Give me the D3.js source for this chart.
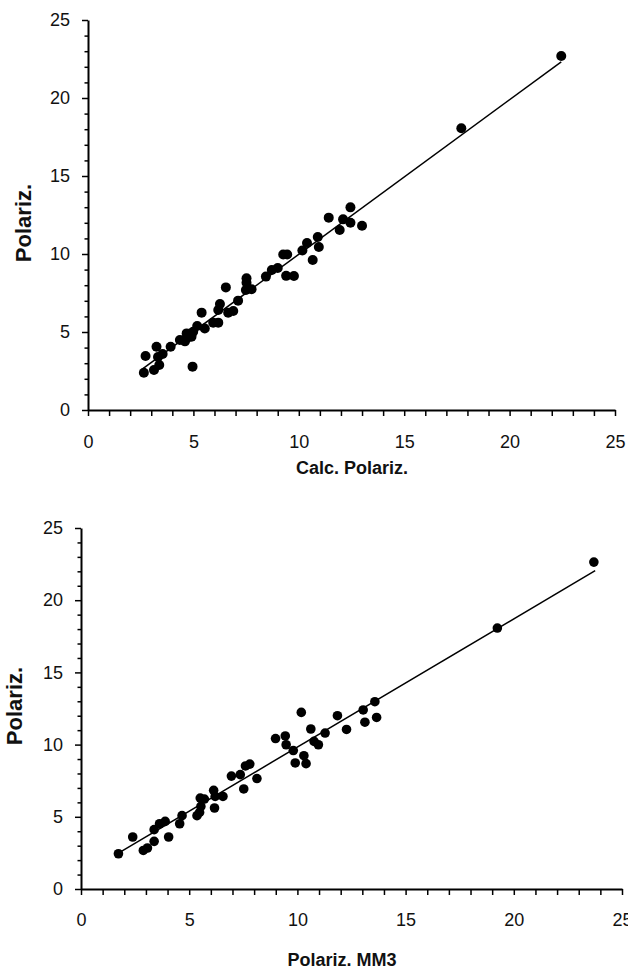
<!DOCTYPE html>
<html>
<head>
<meta charset="utf-8">
<script src="https://cdn.jsdelivr.net/npm/d3@7"></script>
<style>
  html, body { margin: 0; padding: 0; background: #fff; }
  svg { display: block; }
  text { font-family: "Liberation Sans", Arial, sans-serif; fill: #111; }
</style>
</head>
<body>
<svg id="chart" width="628" height="969"></svg>
<script>
// Measured vs. calculated polarizability (top panel)
const calcX = [2.65, 2.73, 3.13, 3.25, 3.38, 3.54, 3.32, 3.92, 4.36, 4.60, 4.68, 4.68, 4.91, 4.96, 4.99,
  5.18, 5.39, 5.54, 5.94, 6.18, 6.18, 6.26, 6.54, 6.65, 6.89, 7.12, 7.49, 7.52, 7.52, 7.76,
  8.44, 8.72, 9.00, 9.26, 9.45, 9.40, 9.77, 10.17, 10.39, 10.66, 10.90, 10.95, 11.42, 12.10,
  12.45, 12.45, 11.94, 13.00, 17.71, 22.45];
const calcY = [2.39, 3.46, 2.56, 4.06, 2.88, 3.59, 3.40, 4.06, 4.49, 4.40, 4.59, 4.91, 4.70, 2.78, 5.02,
  5.38, 6.24, 5.23, 5.60, 5.60, 6.41, 6.79, 7.86, 6.24, 6.35, 7.01, 7.69, 8.44, 8.16, 7.74,
  8.55, 8.98, 9.10, 9.97, 9.97, 8.60, 8.59, 10.23, 10.70, 9.62, 11.09, 10.45, 12.33, 12.22,
  12.99, 12.00, 11.54, 11.81, 18.06, 22.69];
const calcFit = { slope: 0.991, intercept: 0.07, from: 2.62, to: 22.45 };

// Measured polarizability vs. MM3 values (bottom panel)
const mm3X = [1.73, 2.39, 2.88, 3.07, 3.38, 3.38, 3.63, 3.89, 4.05, 4.56, 4.67, 5.36, 5.48, 5.54, 5.51,
  5.70, 6.13, 6.17, 6.20, 6.56, 6.95, 7.36, 7.52, 7.60, 7.80, 8.13, 8.99, 9.44, 9.48, 9.81,
  9.90, 10.18, 10.30, 10.40, 10.62, 10.77, 10.97, 11.28, 11.85, 12.27, 13.04, 13.58, 13.12,
  13.66, 19.24, 23.70];
const mm3Y = [2.44, 3.60, 2.67, 2.84, 3.30, 4.11, 4.52, 4.68, 3.60, 4.52, 5.08, 5.08, 5.30, 5.72, 6.30,
  6.23, 6.83, 5.61, 6.41, 6.41, 7.82, 7.92, 6.93, 8.52, 8.65, 7.65, 10.42, 10.60, 9.99, 9.59,
  8.73, 12.23, 9.23, 8.68, 11.08, 10.22, 9.99, 10.80, 12.00, 11.05, 12.40, 12.97, 11.55,
  11.88, 18.07, 22.64];
const mm3Fit = { slope: 0.888, intercept: 0.95, from: 1.73, to: 23.76 };

const axisTicks = d3.range(0, 26);      // one tick per unit
const labelTicks = [0, 5, 10, 15, 20, 25];

const svg = d3.select("#chart");

function panel(cfg) {
  const g = svg.append("g");
  const x = d3.scaleLinear().domain([0, 25]).range([cfg.left, cfg.right]);
  const y = d3.scaleLinear().domain([0, 25]).range([cfg.bottom, cfg.top]);

  // x axis: line plus ticks every unit, labels every 5
  const xAxis = d3.axisBottom(x).tickValues(axisTicks).tickSize(6).tickSizeOuter(0)
    .tickFormat(d => labelTicks.includes(d) ? d : "");
  const gx = g.append("g").attr("transform", `translate(0,${cfg.bottom})`).call(xAxis);
  gx.select(".domain").attr("stroke", "#000").attr("stroke-width", 2);
  gx.selectAll(".tick line").attr("stroke", "#000").attr("stroke-width", 1.5);
  gx.selectAll(".tick text").attr("y", cfg.xLabelGap).attr("dy", "0.71em")
    .style("font-size", "18px").style("font-family", "Liberation Sans, Arial, sans-serif").attr("fill", "#111");

  // y axis: long ticks at multiples of 5, short ticks between
  const yAxis = d3.axisLeft(y).tickValues(axisTicks).tickSize(3).tickSizeOuter(0)
    .tickFormat(d => labelTicks.includes(d) ? d : "");
  const gy = g.append("g").attr("transform", `translate(${cfg.left},0)`).call(yAxis);
  gy.select(".domain").attr("stroke", "#000").attr("stroke-width", 2);
  gy.selectAll(".tick line").attr("stroke", "#000").attr("stroke-width", 1.5)
    .attr("x2", d => labelTicks.includes(d) ? -6 : -3.5);
  gy.selectAll(".tick text").attr("x", -18)
    .style("font-size", "18px").style("font-family", "Liberation Sans, Arial, sans-serif").attr("fill", "#111");

  // fitted line
  const fit = cfg.fit;
  g.append("line")
    .attr("x1", x(fit.from)).attr("y1", y(fit.slope * fit.from + fit.intercept))
    .attr("x2", x(fit.to)).attr("y2", y(fit.slope * fit.to + fit.intercept))
    .attr("stroke", "#000").attr("stroke-width", 1.5);

  // data points
  g.append("g").selectAll("circle")
    .data(d3.zip(cfg.xs, cfg.ys))
    .join("circle")
    .attr("cx", d => x(d[0])).attr("cy", d => y(d[1]))
    .attr("r", cfg.r).attr("fill", "#000");

  // axis titles
  g.append("text")
    .attr("x", cfg.xTitle[0]).attr("y", cfg.xTitle[1])
    .attr("text-anchor", "middle")
    .style("font-size", cfg.xTitleSize + "px").style("font-weight", "bold")
    .text(cfg.xLabel);
  g.append("text")
    .attr("transform", `translate(${cfg.yTitle[0]},${cfg.yTitle[1]}) rotate(-90)`)
    .attr("text-anchor", "middle")
    .style("font-size", "22px").style("font-weight", "bold")
    .text(cfg.yLabel);
}

panel({
  left: 88, right: 615, top: 20, bottom: 410,
  xs: calcX, ys: calcY, fit: calcFit, r: 5,
  xLabelGap: 25,
  xLabel: "Calc. Polariz.", xTitle: [352, 474], xTitleSize: 18,
  yLabel: "Polariz.", yTitle: [31, 223]
});

panel({
  left: 81, right: 622, top: 528, bottom: 889,
  xs: mm3X, ys: mm3Y, fit: mm3Fit, r: 4.8,
  xLabelGap: 24,
  xLabel: "Polariz. MM3", xTitle: [342, 966], xTitleSize: 18,
  yLabel: "Polariz.", yTitle: [22, 706]
});
</script>
</body>
</html>
